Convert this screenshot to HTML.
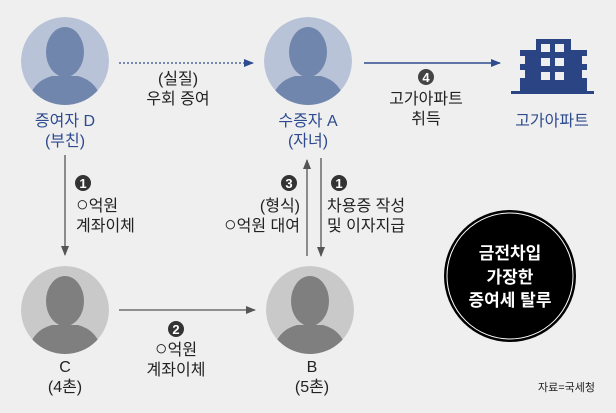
<!DOCTYPE html>
<html><head><meta charset="utf-8"><style>
html,body{margin:0;padding:0;background:#efefef;}
svg{display:block;font-family:"Liberation Sans","Noto Sans CJK KR",sans-serif;}
</style></head><body>
<svg width="616" height="413" viewBox="0 0 616 413" xmlns="http://www.w3.org/2000/svg">
<rect width="616" height="413" fill="#efefef"/>
<defs>
<clipPath id="cD"><circle cx="65" cy="61" r="44"/></clipPath>
<clipPath id="cA"><circle cx="308" cy="61" r="44"/></clipPath>
<clipPath id="cC"><circle cx="65" cy="310" r="44"/></clipPath>
<clipPath id="cB"><circle cx="310" cy="310" r="44"/></clipPath>
<marker id="ah" markerWidth="10" markerHeight="8" refX="9" refY="4" orient="auto" markerUnits="userSpaceOnUse"><path d="M0,0 L10,4 L0,8 Z" fill="#555"/></marker>
<marker id="ahb" markerWidth="10" markerHeight="8" refX="9" refY="4" orient="auto" markerUnits="userSpaceOnUse"><path d="M0,0 L10,4 L0,8 Z" fill="#2e4b8f"/></marker>
</defs>
<g clip-path="url(#cD)"><circle cx="65" cy="61" r="44" fill="#b9c3d8"/>
<ellipse cx="65" cy="52" rx="19" ry="25" fill="#7186ad"/><path d="M27,110 Q29,82 52,76 L78,76 Q101,82 103,110 Z" fill="#7186ad"/></g>
<g clip-path="url(#cA)"><circle cx="308" cy="61" r="44" fill="#b9c3d8"/>
<ellipse cx="308" cy="52" rx="19" ry="25" fill="#7186ad"/><path d="M270,110 Q272,82 295,76 L321,76 Q344,82 346,110 Z" fill="#7186ad"/></g>
<g clip-path="url(#cC)"><circle cx="65" cy="310" r="44" fill="#c9c9c9"/>
<ellipse cx="65" cy="301" rx="19" ry="25" fill="#7f7f7f"/><path d="M27,359 Q29,331 52,325 L78,325 Q101,331 103,359 Z" fill="#7f7f7f"/></g>
<g clip-path="url(#cB)"><circle cx="310" cy="310" r="44" fill="#c9c9c9"/>
<ellipse cx="310" cy="301" rx="19" ry="25" fill="#7f7f7f"/><path d="M272,359 Q274,331 297,325 L323,325 Q346,331 348,359 Z" fill="#7f7f7f"/></g>

<g fill="#2b4584">
<rect x="536" y="39" width="35" height="53"/>
<rect x="520" y="50" width="16" height="42"/>
<rect x="571" y="50" width="16" height="42"/>
<rect x="511" y="91" width="83" height="3"/>
</g>
<g fill="#efefef">
<rect x="541" y="44" width="9" height="8"/><rect x="555" y="44" width="9" height="8"/>
<rect x="541" y="58" width="9" height="8"/><rect x="555" y="58" width="9" height="8"/>
<rect x="541" y="72" width="9" height="8"/><rect x="555" y="72" width="9" height="8"/>
<rect x="520" y="56" width="5" height="8"/><rect x="520" y="70" width="5" height="8"/>
<rect x="582" y="56" width="5" height="8"/><rect x="582" y="70" width="5" height="8"/>
</g>

<line x1="119" y1="63" x2="253" y2="63" stroke="#2e4b8f" stroke-width="1.2" stroke-dasharray="2,2" marker-end="url(#ahb)"/>
<line x1="364" y1="63" x2="500" y2="63" stroke="#2e4b8f" stroke-width="1.4" marker-end="url(#ahb)"/>
<line x1="65" y1="155" x2="65" y2="255" stroke="#555" stroke-width="1.3" marker-end="url(#ah)"/>
<line x1="307" y1="256" x2="307" y2="160" stroke="#555" stroke-width="1.3" marker-end="url(#ah)"/>
<line x1="321" y1="158" x2="321" y2="256" stroke="#555" stroke-width="1.3" marker-end="url(#ah)"/>
<line x1="119" y1="310" x2="255" y2="310" stroke="#555" stroke-width="1.3" marker-end="url(#ah)"/>

<g font-size="13" font-weight="bold" text-anchor="middle" fill="#fff">
<circle cx="83" cy="183" r="8" fill="#333"/><text x="83" y="188">1</text>
<circle cx="289" cy="183" r="8" fill="#333"/><text x="289" y="188">3</text>
<circle cx="339" cy="183" r="8" fill="#333"/><text x="339" y="188">1</text>
<circle cx="426" cy="77" r="8" fill="#444"/><text x="426" y="82">4</text>
<circle cx="176" cy="329" r="8" fill="#333"/><text x="176" y="334">2</text>
</g>

<g font-size="16" fill="#222">
<text x="178" y="84" text-anchor="middle">(실질)</text>
<text x="178" y="104" text-anchor="middle">우회 증여</text>
<text x="426" y="104" text-anchor="middle">고가아파트</text>
<text x="426" y="124" text-anchor="middle">취득</text>
<text x="76" y="211"><tspan font-size="21">○</tspan>억원</text>
<text x="76" y="231">계좌이체</text>
<text x="300" y="211" text-anchor="end">(형식)</text>
<text x="300" y="231" text-anchor="end"><tspan font-size="21">○</tspan>억원 대여</text>
<text x="327" y="211">차용증 작성</text>
<text x="327" y="231">및 이자지급</text>
<text x="176" y="355" text-anchor="middle"><tspan font-size="21">○</tspan>억원</text>
<text x="176" y="375" text-anchor="middle">계좌이체</text>
<text x="65" y="372" text-anchor="middle">C</text>
<text x="65" y="392" text-anchor="middle">(4촌)</text>
<text x="312" y="372" text-anchor="middle">B</text>
<text x="312" y="392" text-anchor="middle">(5촌)</text>
</g>
<g font-size="16" fill="#2e4b8f" text-anchor="middle">
<text x="65" y="126">증여자 D</text>
<text x="65" y="146">(부친)</text>
<text x="308" y="126">수증자 A</text>
<text x="308" y="146">(자녀)</text>
<text x="552" y="126">고가아파트</text>
</g>

<circle cx="510" cy="276" r="66" fill="#000"/>
<circle cx="510" cy="276" r="63" fill="none" stroke="#fff" stroke-width="1"/>
<g font-size="17" font-weight="bold" fill="#fff" text-anchor="middle">
<text x="510" y="259">금전차입</text>
<text x="510" y="283">가장한</text>
<text x="510" y="306">증여세 탈루</text>
</g>
<text x="595" y="391" font-size="11" fill="#222" text-anchor="end">자료=국세청</text>
</svg>
</body></html>
